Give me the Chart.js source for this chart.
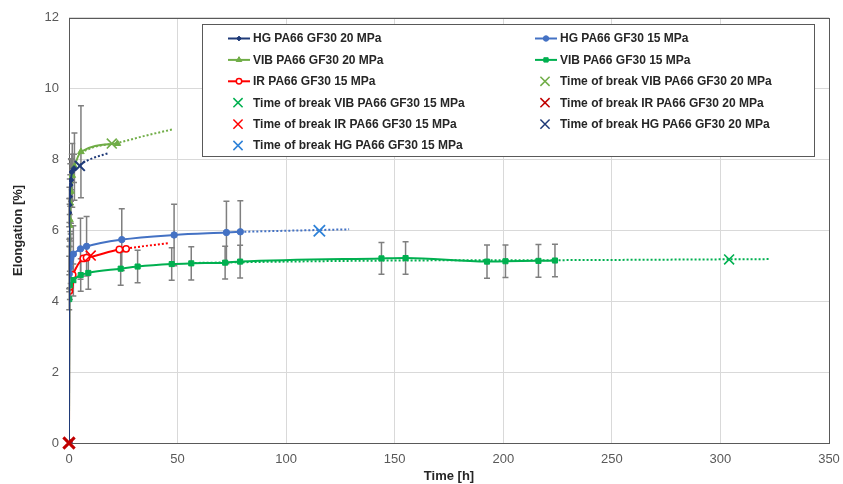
<!DOCTYPE html>
<html>
<head>
<meta charset="utf-8">
<script src="https://cdn.jsdelivr.net/npm/chart.js@4.4.1/dist/chart.umd.min.js"></script>
<style>
  html, body { margin: 0; padding: 0; background: #ffffff; }
  #wrap { width: 843px; height: 484px; }
</style>
</head>
<body>
<div id="wrap"><canvas id="c" width="843" height="484"></canvas></div>
<script>
// ---------- DATA ----------
const hg20Time  = [0, 0.1, 0.2, 0.35, 0.6, 0.9, 1.3, 2.3];
const hg20Elong = [0, 6.5, 6.72, 6.95, 7.28, 7.42, 7.65, 7.75];
const hg20Err   = [0, 0.4, 0.5, 0.5, 0.6, 0.6, 0.5, 0.4];

const hg15Time  = [0, 0.1, 0.2, 0.4, 0.8, 2, 5.3, 8.1, 24.3, 48.4, 72.5, 78.9];
const hg15Elong = [0, 4.77, 4.95, 5.08, 5.2, 5.33, 5.48, 5.55, 5.74, 5.87, 5.94, 5.96];
const hg15Err   = [0, 0.5, 0.6, 0.7, 0.7, 0.8, 0.86, 0.84, 0.87, 0.87, 0.88, 0.88];

const vib20Time  = [0, 0.15, 0.3, 0.45, 0.6, 0.9, 1.5, 2.5, 5.5, 22.3];
const vib20Elong = [0, 5.25, 6.14, 6.3, 6.77, 7.1, 7.55, 7.8, 8.22, 8.45];
const vib20Err   = [0, 0.5, 0.6, 0.6, 0.8, 0.9, 0.9, 0.95, 1.3, 0];

const vib15Time  = [0, 0.1, 0.4, 2, 5.4, 8.9, 23.8, 31.6, 47.3, 56.3, 71.9, 78.8, 143.9, 155, 192.5, 201, 216.2, 223.8];
const vib15Elong = [0, 4.06, 4.45, 4.6, 4.74, 4.8, 4.92, 4.98, 5.05, 5.07, 5.09, 5.12, 5.21, 5.22, 5.12, 5.13, 5.14, 5.15];
const vib15Err   = [0, 0.3, 0.4, 0.45, 0.46, 0.46, 0.47, 0.46, 0.46, 0.47, 0.46, 0.46, 0.45, 0.46, 0.47, 0.46, 0.46, 0.46];

const ir15Time  = [0, 0.15, 0.3, 0.5, 0.9, 1.7, 6.6, 8.1, 23.2, 26.3];
const ir15Elong = [0, 4.29, 4.4, 4.5, 4.59, 4.74, 5.21, 5.23, 5.46, 5.48];

// Time of break points [time, elongation]
const breakVib20 = [19.7, 8.45];
const breakVib15 = [304, 5.18];
const breakIr20  = [0, 0];
const breakIr15  = [10, 5.29];
const breakHg20  = [5, 7.82];
const breakHg15  = [115.3, 5.99];

// Dotted trend extensions
const trendHg20Time  = [5, 8, 11, 18.1];
const trendHg20Elong = [7.85, 7.96, 8.04, 8.18];
const trendVib20Time  = [5.5, 12, 22.3, 35, 47.6];
const trendVib20Elong = [8.2, 8.36, 8.47, 8.67, 8.85];
const trendHg15Time  = [78.9, 100, 129];
const trendHg15Elong = [5.96, 5.99, 6.03];
const trendIr15Time  = [26.3, 35, 45.8];
const trendIr15Elong = [5.49, 5.56, 5.64];
const trendVib15Time  = [56, 100, 150, 224, 323];
const trendVib15Elong = [5.08, 5.12, 5.15, 5.16, 5.19];

const xMin = 0, xMax = 350, xStep = 50;
const yMin = 0, yMax = 12, yStep = 2;

// ---------- helpers ----------
const FONT = "'Liberation Sans', Arial, sans-serif";
function pts(t, v) { return t.map((x, i) => ({ x: x, y: v[i] })); }

function lineSeries(label, t, v, err, color, style, r, fill) {
  return {
    label, data: pts(t, v), errors: err, showLine: true,
    borderColor: color, backgroundColor: fill || color, borderWidth: 2,
    pointStyle: style, pointRadius: r, pointBorderColor: color,
    pointBackgroundColor: fill || color, pointBorderWidth: fill ? 1.5 : 1,
    cubicInterpolationMode: 'monotone', order: 1
  };
}
function breakSeries(label, p, color, r, lw) {
  return {
    label, data: [{ x: p[0], y: p[1] }], showLine: false, clip: false,
    borderColor: color, backgroundColor: color, pointStyle: 'crossRot',
    pointRadius: r || 7, pointBorderColor: color, pointBorderWidth: lw || 1.6, order: 0
  };
}
function trendSeries(t, v, color) {
  return {
    label: '', isTrend: true, data: pts(t, v), showLine: true,
    borderColor: color, borderWidth: 2, borderDash: [2, 2], pointRadius: 0,
    cubicInterpolationMode: 'monotone', order: 5
  };
}

const C_HG20 = '#1F3A78', C_HG15 = '#4472C4', C_VIB20 = '#70AD47',
      C_VIB15 = '#00B050', C_IR15 = '#FF0000', C_IR20 = '#C00000', C_HGX15 = '#2E82D8';

const datasets = [
  lineSeries('HG PA66 GF30 20 MPa', hg20Time, hg20Elong, hg20Err, C_HG20, 'rectRot', 2.8),
  lineSeries('HG PA66 GF30 15 MPa', hg15Time, hg15Elong, hg15Err, C_HG15, 'circle', 3.2),
  lineSeries('VIB PA66 GF30 20 MPa', vib20Time, vib20Elong, vib20Err, C_VIB20, 'triangle', 3.8),
  lineSeries('VIB PA66 GF30 15 MPa', vib15Time, vib15Elong, vib15Err, C_VIB15, 'rect', 3.6),
  lineSeries('IR PA66 GF30 15 MPa', ir15Time, ir15Elong, null, C_IR15, 'circle', 3.2, '#ffffff'),
  breakSeries('Time of break VIB PA66 GF30 20 MPa', breakVib20, C_VIB20),
  breakSeries('Time of break VIB PA66 GF30 15 MPa', breakVib15, C_VIB15),
  breakSeries('Time of break IR PA66 GF30 20 MPa', breakIr20, C_IR20, 8, 3),
  breakSeries('Time of break IR PA66 GF30 15 MPa', breakIr15, C_IR15),
  breakSeries('Time of break HG PA66 GF30 20 MPa', breakHg20, C_HG20, 7, 2),
  breakSeries('Time of break HG PA66 GF30 15 MPa', breakHg15, C_HGX15, 8, 1.8),
  trendSeries(trendHg20Time, trendHg20Elong, C_HG20),
  trendSeries(trendVib20Time, trendVib20Elong, C_VIB20),
  trendSeries(trendHg15Time, trendHg15Elong, C_HG15),
  trendSeries(trendIr15Time, trendIr15Elong, C_IR15),
  trendSeries(trendVib15Time, trendVib15Elong, C_VIB15)
];

function drawMarker(ctx, style, x, y, r, fill, stroke, lw) {
  ctx.save();
  ctx.lineWidth = lw; ctx.strokeStyle = stroke; ctx.fillStyle = fill;
  ctx.beginPath();
  let s;
  switch (style) {
    case 'circle': ctx.arc(x, y, r, 0, Math.PI * 2); break;
    case 'rect': s = r * Math.SQRT1_2; ctx.rect(x - s, y - s, 2 * s, 2 * s); break;
    case 'rectRot': ctx.moveTo(x, y - r); ctx.lineTo(x + r, y); ctx.lineTo(x, y + r); ctx.lineTo(x - r, y); ctx.closePath(); break;
    case 'triangle':
      ctx.moveTo(x, y - r); ctx.lineTo(x + r * 0.866, y + r * 0.5); ctx.lineTo(x - r * 0.866, y + r * 0.5); ctx.closePath(); break;
    case 'crossRot':
      s = r * Math.SQRT1_2;
      ctx.moveTo(x - s, y - s); ctx.lineTo(x + s, y + s);
      ctx.moveTo(x + s, y - s); ctx.lineTo(x - s, y + s);
      ctx.stroke(); ctx.restore(); return;
  }
  ctx.fill(); ctx.stroke();
  ctx.restore();
}

const frameAndErrors = {
  id: 'frameAndErrors',
  beforeDatasetsDraw(chart) {
    const { ctx, chartArea: a, scales: { x, y } } = chart;
    ctx.save();
    ctx.strokeStyle = '#595959'; ctx.lineWidth = 1;
    ctx.strokeRect(Math.round(a.left) + 0.5, Math.round(a.top) + 0.5,
                   Math.round(a.right - a.left), Math.round(a.bottom - a.top));
    ctx.strokeStyle = '#7F7F7F'; ctx.lineWidth = 1.5;
    chart.data.datasets.forEach((ds) => {
      if (!ds.errors) return;
      ds.data.forEach((p, i) => {
        const e = ds.errors[i];
        if (!e) return;
        const px = x.getPixelForValue(p.x);
        const y1 = y.getPixelForValue(p.y + e), y2 = y.getPixelForValue(p.y - e);
        ctx.beginPath();
        ctx.moveTo(px, y1); ctx.lineTo(px, y2);
        ctx.moveTo(px - 3, y1); ctx.lineTo(px + 3, y1);
        ctx.moveTo(px - 3, y2); ctx.lineTo(px + 3, y2);
        ctx.stroke();
      });
    });
    ctx.restore();
  }
};

const boxLegend = {
  id: 'boxLegend',
  afterDraw(chart) {
    const ctx = chart.ctx;
    const bx = 202.5, by = 24.5, bw = 612, bh = 132;
    ctx.save();
    ctx.fillStyle = '#ffffff'; ctx.fillRect(bx, by, bw, bh);
    ctx.strokeStyle = '#595959'; ctx.lineWidth = 1; ctx.strokeRect(bx, by, bw, bh);
    ctx.font = 'bold 12px ' + FONT;
    ctx.textBaseline = 'middle'; ctx.textAlign = 'left';
    const items = chart.data.datasets.filter(d => !d.isTrend);
    items.forEach((ds, i) => {
      const col = i % 2, row = Math.floor(i / 2);
      const yy = 38.5 + row * 21.4;
      const x0 = col ? 535 : 228;
      const x1 = col ? 557 : 250;
      const tx = col ? 560 : 253;
      const cx = (x0 + x1) / 2;
      if (ds.showLine) {
        ctx.strokeStyle = ds.borderColor; ctx.lineWidth = 2;
        ctx.beginPath(); ctx.moveTo(x0, yy); ctx.lineTo(x1, yy); ctx.stroke();
        drawMarker(ctx, ds.pointStyle, cx, yy, ds.pointRadius * 0.85,
                   ds.pointBackgroundColor, ds.pointBorderColor, ds.pointBorderWidth);
      } else {
        drawMarker(ctx, 'crossRot', cx - 1, yy, 6.5, ds.pointBorderColor, ds.pointBorderColor, 1.5);
      }
      ctx.fillStyle = '#262626';
      ctx.fillText(ds.label, tx, yy + 0.5);
    });
    ctx.restore();
  }
};

new Chart(document.getElementById('c'), {
  type: 'scatter',
  data: { datasets },
  plugins: [frameAndErrors, boxLegend],
  options: {
    responsive: false,
    animation: false,
    layout: { padding: { top: 11, right: 14, left: 0, bottom: 0 } },
    plugins: { legend: { display: false }, tooltip: { enabled: false } },
    scales: {
      x: {
        type: 'linear', min: xMin, max: xMax,
        ticks: { stepSize: xStep, color: '#595959', font: { family: FONT, size: 13 }, padding: 0 },
        grid: { color: '#D9D9D9', lineWidth: 1, drawTicks: true, tickLength: 9, tickColor: 'rgba(0,0,0,0)' },
        border: { display: false },
        title: { display: true, text: 'Time [h]', color: '#262626',
                 font: { family: FONT, size: 13, weight: 'bold' }, padding: { top: 0, bottom: 0 } },
        afterFit(s) { s.height = 41; }
      },
      y: {
        type: 'linear', min: yMin, max: yMax,
        ticks: { stepSize: yStep, color: '#595959', font: { family: FONT, size: 13 }, padding: 10 },
        grid: { color: '#D9D9D9', lineWidth: 1, drawTicks: false },
        border: { display: false },
        title: { display: true, text: 'Elongation [%]', color: '#262626',
                 font: { family: FONT, size: 13, weight: 'bold' }, padding: { top: 11, bottom: 0 } },
        afterFit(s) { s.width = 69; }
      }
    }
  }
});
</script>
</body>
</html>
